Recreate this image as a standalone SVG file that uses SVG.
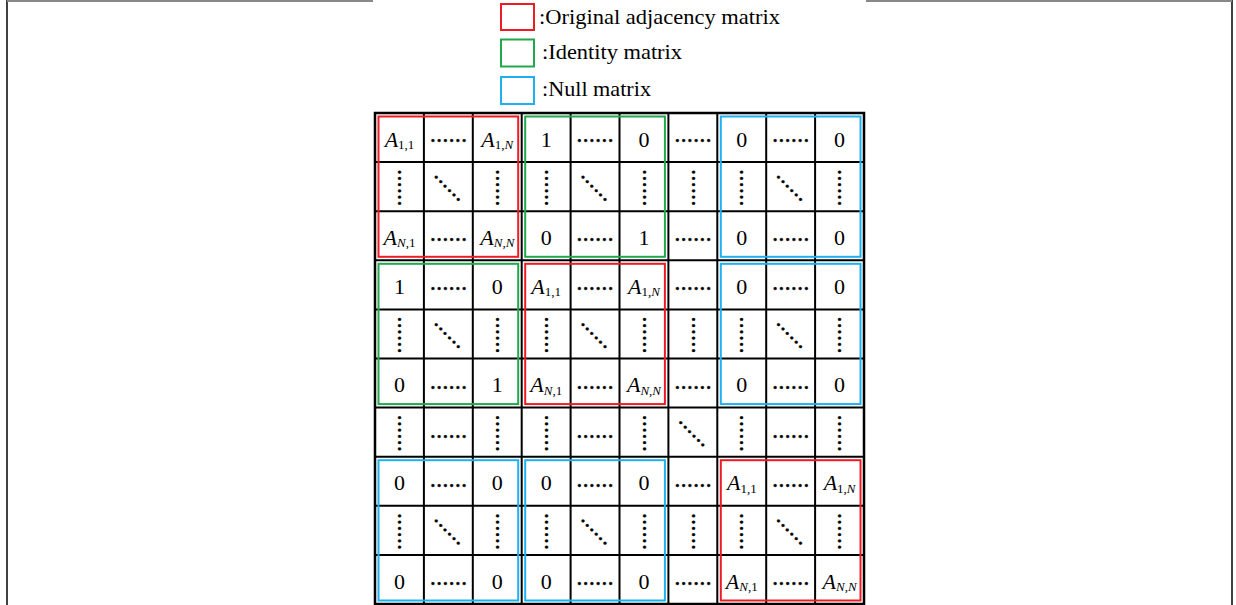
<svg xmlns="http://www.w3.org/2000/svg" width="1236" height="605" viewBox="0 0 1236 605">
<style>
.g{stroke:#000;stroke-width:2;fill:none}
.o{stroke:#000;stroke-width:2.5;fill:none}
.n{font-family:"Liberation Serif","Times New Roman",serif;font-size:22px;fill:#000;text-anchor:middle}
.a{font-style:italic}
.s{font-size:13px}
.si{font-size:13px;font-style:italic}
.dt{font-family:"Liberation Serif","Times New Roman",serif;font-size:25px;fill:#000;stroke:#000;stroke-width:0.3;text-anchor:middle}
.lg{font-family:"Liberation Serif","Times New Roman",serif;font-size:22px;fill:#000}
.red{stroke:#ed1c24;stroke-width:2;fill:none}
.grn{stroke:#22a84a;stroke-width:2;fill:none}
.blu{stroke:#1fb0f0;stroke-width:2;fill:none}
.fr{stroke:#000;stroke-width:1.5}
.ft{stroke:#888;stroke-width:2}
</style>
<rect width="1236" height="605" fill="#fff"/>
<g id="frame">
<line class="fr" x1="7" y1="0" x2="7" y2="605"/>
<line class="fr" x1="1232" y1="0" x2="1232" y2="605"/>
<line class="ft" x1="7" y1="1" x2="373" y2="1"/>
<line class="ft" x1="866" y1="1" x2="1232" y2="1"/>
</g>
<g id="legend">
<g id="legend-original"><rect class="red" x="501" y="4" width="33" height="26" stroke-width="2.5"/><text class="lg" x="539" y="24" textLength="241" lengthAdjust="spacingAndGlyphs">:Original adjacency matrix</text></g>
<g id="legend-identity"><rect class="grn" x="501" y="39.5" width="33" height="27" stroke-width="2.5"/><text class="lg" x="542" y="59" textLength="140" lengthAdjust="spacingAndGlyphs">:Identity matrix</text></g>
<g id="legend-null"><rect class="blu" x="501" y="77" width="33" height="27" stroke-width="2.5"/><text class="lg" x="542" y="96" textLength="109" lengthAdjust="spacingAndGlyphs">:Null matrix</text></g>
</g>
<g id="grid">
<rect class="o" x="375" y="113" width="489" height="491"/>
<line class="g" x1="423.9" y1="113" x2="423.9" y2="604"/>
<line class="g" x1="472.8" y1="113" x2="472.8" y2="604"/>
<line class="g" x1="521.7" y1="113" x2="521.7" y2="604"/>
<line class="g" x1="570.6" y1="113" x2="570.6" y2="604"/>
<line class="g" x1="619.5" y1="113" x2="619.5" y2="604"/>
<line class="g" x1="668.4" y1="113" x2="668.4" y2="604"/>
<line class="g" x1="717.3" y1="113" x2="717.3" y2="604"/>
<line class="g" x1="766.2" y1="113" x2="766.2" y2="604"/>
<line class="g" x1="815.1" y1="113" x2="815.1" y2="604"/>
<line class="g" x1="375" y1="162.1" x2="864" y2="162.1"/>
<line class="g" x1="375" y1="211.2" x2="864" y2="211.2"/>
<line class="g" x1="375" y1="260.3" x2="864" y2="260.3"/>
<line class="g" x1="375" y1="309.4" x2="864" y2="309.4"/>
<line class="g" x1="375" y1="358.5" x2="864" y2="358.5"/>
<line class="g" x1="375" y1="407.6" x2="864" y2="407.6"/>
<line class="g" x1="375" y1="456.7" x2="864" y2="456.7"/>
<line class="g" x1="375" y1="505.8" x2="864" y2="505.8"/>
<line class="g" x1="375" y1="554.9" x2="864" y2="554.9"/>
</g>
<g id="blocks">
<rect id="box-00" class="red" x="378.5" y="116.5" width="139.7" height="140.3"/>
<rect id="box-01" class="grn" x="525.2" y="116.5" width="139.7" height="140.3"/>
<rect id="box-03" class="blu" x="720.8" y="116.5" width="139.7" height="140.3"/>
<rect id="box-10" class="grn" x="378.5" y="263.8" width="139.7" height="140.3"/>
<rect id="box-11" class="red" x="525.2" y="263.8" width="139.7" height="140.3"/>
<rect id="box-13" class="blu" x="720.8" y="263.8" width="139.7" height="140.3"/>
<rect id="box-30" class="blu" x="378.5" y="460.2" width="139.7" height="140.3"/>
<rect id="box-31" class="blu" x="525.2" y="460.2" width="139.7" height="140.3"/>
<rect id="box-33" class="red" x="720.8" y="460.2" width="139.7" height="140.3"/>
</g>
<g id="cells">
<g id="row0">
<text class="n" x="399.5" y="146.6"><tspan class="a">A</tspan><tspan class="s" dy="2.5">1,1</tspan></text>
<text class="dt" x="448.4" y="142">......</text>
<text class="n" x="497.3" y="146.6"><tspan class="a">A</tspan><tspan class="s" dy="2.5">1,</tspan><tspan class="si">N</tspan></text>
<text class="n" x="546.2" y="146.6">1</text>
<text class="dt" x="595.1" y="142">......</text>
<text class="n" x="644" y="146.6">0</text>
<text class="dt" x="692.9" y="142">......</text>
<text class="n" x="741.8" y="146.6">0</text>
<text class="dt" x="790.7" y="142">......</text>
<text class="n" x="839.6" y="146.6">0</text>
</g>
<g id="row1">
<text class="dt" transform="translate(399.5 187.7) rotate(90)" y="1.3">......</text>
<text class="dt" transform="translate(447.4 188.2) rotate(45)" y="1.3">......</text>
<text class="dt" transform="translate(497.3 187.7) rotate(90)" y="1.3">......</text>
<text class="dt" transform="translate(546.2 187.7) rotate(90)" y="1.3">......</text>
<text class="dt" transform="translate(594.1 188.2) rotate(45)" y="1.3">......</text>
<text class="dt" transform="translate(644 187.7) rotate(90)" y="1.3">......</text>
<text class="dt" transform="translate(692.9 187.7) rotate(90)" y="1.3">......</text>
<text class="dt" transform="translate(741.8 187.7) rotate(90)" y="1.3">......</text>
<text class="dt" transform="translate(789.7 188.2) rotate(45)" y="1.3">......</text>
<text class="dt" transform="translate(839.6 187.7) rotate(90)" y="1.3">......</text>
</g>
<g id="row2">
<text class="n" x="399.5" y="244.8"><tspan class="a">A</tspan><tspan class="si" dy="2.5">N</tspan><tspan class="s">,1</tspan></text>
<text class="dt" x="448.4" y="241.2">......</text>
<text class="n" x="497.3" y="244.8"><tspan class="a">A</tspan><tspan class="si" dy="2.5">N</tspan><tspan class="s">,</tspan><tspan class="si">N</tspan></text>
<text class="n" x="546.2" y="244.8">0</text>
<text class="dt" x="595.1" y="241.2">......</text>
<text class="n" x="644" y="244.8">1</text>
<text class="dt" x="692.9" y="241.2">......</text>
<text class="n" x="741.8" y="244.8">0</text>
<text class="dt" x="790.7" y="241.2">......</text>
<text class="n" x="839.6" y="244.8">0</text>
</g>
<g id="row3">
<text class="n" x="399.5" y="293.9">1</text>
<text class="dt" x="448.4" y="290.3">......</text>
<text class="n" x="497.3" y="293.9">0</text>
<text class="n" x="546.2" y="293.9"><tspan class="a">A</tspan><tspan class="s" dy="2.5">1,1</tspan></text>
<text class="dt" x="595.1" y="290.3">......</text>
<text class="n" x="644" y="293.9"><tspan class="a">A</tspan><tspan class="s" dy="2.5">1,</tspan><tspan class="si">N</tspan></text>
<text class="dt" x="692.9" y="290.3">......</text>
<text class="n" x="741.8" y="293.9">0</text>
<text class="dt" x="790.7" y="290.3">......</text>
<text class="n" x="839.6" y="293.9">0</text>
</g>
<g id="row4">
<text class="dt" transform="translate(399.5 335) rotate(90)" y="1.3">......</text>
<text class="dt" transform="translate(447.4 335.5) rotate(45)" y="1.3">......</text>
<text class="dt" transform="translate(497.3 335) rotate(90)" y="1.3">......</text>
<text class="dt" transform="translate(546.2 335) rotate(90)" y="1.3">......</text>
<text class="dt" transform="translate(594.1 335.5) rotate(45)" y="1.3">......</text>
<text class="dt" transform="translate(644 335) rotate(90)" y="1.3">......</text>
<text class="dt" transform="translate(692.9 335) rotate(90)" y="1.3">......</text>
<text class="dt" transform="translate(741.8 335) rotate(90)" y="1.3">......</text>
<text class="dt" transform="translate(789.7 335.5) rotate(45)" y="1.3">......</text>
<text class="dt" transform="translate(839.6 335) rotate(90)" y="1.3">......</text>
</g>
<g id="row5">
<text class="n" x="399.5" y="392.1">0</text>
<text class="dt" x="448.4" y="388.5">......</text>
<text class="n" x="497.3" y="392.1">1</text>
<text class="n" x="546.2" y="392.1"><tspan class="a">A</tspan><tspan class="si" dy="2.5">N</tspan><tspan class="s">,1</tspan></text>
<text class="dt" x="595.1" y="388.5">......</text>
<text class="n" x="644" y="392.1"><tspan class="a">A</tspan><tspan class="si" dy="2.5">N</tspan><tspan class="s">,</tspan><tspan class="si">N</tspan></text>
<text class="dt" x="692.9" y="388.5">......</text>
<text class="n" x="741.8" y="392.1">0</text>
<text class="dt" x="790.7" y="388.5">......</text>
<text class="n" x="839.6" y="392.1">0</text>
</g>
<g id="row6">
<text class="dt" transform="translate(399.5 433.2) rotate(90)" y="1.3">......</text>
<text class="dt" x="448.4" y="437.6">......</text>
<text class="dt" transform="translate(497.3 433.2) rotate(90)" y="1.3">......</text>
<text class="dt" transform="translate(546.2 433.2) rotate(90)" y="1.3">......</text>
<text class="dt" x="595.1" y="437.6">......</text>
<text class="dt" transform="translate(644 433.2) rotate(90)" y="1.3">......</text>
<text class="dt" transform="translate(691.9 433.7) rotate(45)" y="1.3">......</text>
<text class="dt" transform="translate(741.8 433.2) rotate(90)" y="1.3">......</text>
<text class="dt" x="790.7" y="437.6">......</text>
<text class="dt" transform="translate(839.6 433.2) rotate(90)" y="1.3">......</text>
</g>
<g id="row7">
<text class="n" x="399.5" y="490.3">0</text>
<text class="dt" x="448.4" y="486.7">......</text>
<text class="n" x="497.3" y="490.3">0</text>
<text class="n" x="546.2" y="490.3">0</text>
<text class="dt" x="595.1" y="486.7">......</text>
<text class="n" x="644" y="490.3">0</text>
<text class="dt" x="692.9" y="486.7">......</text>
<text class="n" x="741.8" y="490.3"><tspan class="a">A</tspan><tspan class="s" dy="2.5">1,1</tspan></text>
<text class="dt" x="790.7" y="486.7">......</text>
<text class="n" x="839.6" y="490.3"><tspan class="a">A</tspan><tspan class="s" dy="2.5">1,</tspan><tspan class="si">N</tspan></text>
</g>
<g id="row8">
<text class="dt" transform="translate(399.5 531.4) rotate(90)" y="1.3">......</text>
<text class="dt" transform="translate(447.4 531.9) rotate(45)" y="1.3">......</text>
<text class="dt" transform="translate(497.3 531.4) rotate(90)" y="1.3">......</text>
<text class="dt" transform="translate(546.2 531.4) rotate(90)" y="1.3">......</text>
<text class="dt" transform="translate(594.1 531.9) rotate(45)" y="1.3">......</text>
<text class="dt" transform="translate(644 531.4) rotate(90)" y="1.3">......</text>
<text class="dt" transform="translate(692.9 531.4) rotate(90)" y="1.3">......</text>
<text class="dt" transform="translate(741.8 531.4) rotate(90)" y="1.3">......</text>
<text class="dt" transform="translate(789.7 531.9) rotate(45)" y="1.3">......</text>
<text class="dt" transform="translate(839.6 531.4) rotate(90)" y="1.3">......</text>
</g>
<g id="row9">
<text class="n" x="399.5" y="588.5">0</text>
<text class="dt" x="448.4" y="584.9">......</text>
<text class="n" x="497.3" y="588.5">0</text>
<text class="n" x="546.2" y="588.5">0</text>
<text class="dt" x="595.1" y="584.9">......</text>
<text class="n" x="644" y="588.5">0</text>
<text class="dt" x="692.9" y="584.9">......</text>
<text class="n" x="741.8" y="588.5"><tspan class="a">A</tspan><tspan class="si" dy="2.5">N</tspan><tspan class="s">,1</tspan></text>
<text class="dt" x="790.7" y="584.9">......</text>
<text class="n" x="839.6" y="588.5"><tspan class="a">A</tspan><tspan class="si" dy="2.5">N</tspan><tspan class="s">,</tspan><tspan class="si">N</tspan></text>
</g>
</g>
</svg>
